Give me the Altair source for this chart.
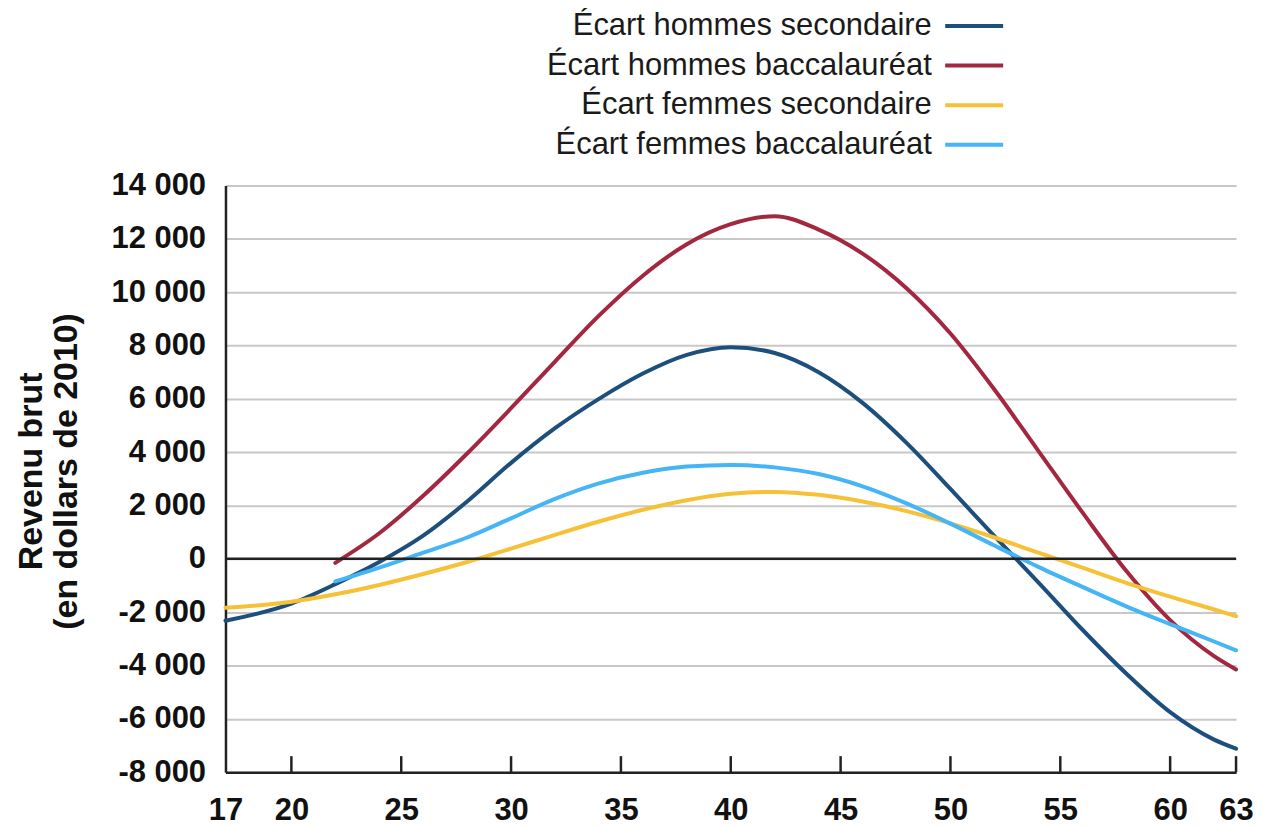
import altair as alt
import pandas as pd

series_names = [
    "Écart hommes secondaire",
    "Écart hommes baccalauréat",
    "Écart femmes secondaire",
    "Écart femmes baccalauréat",
]
colors = ["#1d4f7c", "#a3283f", "#f6c137", "#45b5f5"]

ages_hs = [17, 20, 22, 24, 26, 28, 30, 32, 34, 36, 38, 40, 42, 44, 46, 48, 50, 52, 54, 56, 58, 60, 62, 63]
vals_hs = [-2320, -1680, -950, -120, 870, 2150, 3600, 4900, 6000, 6950, 7650, 7940, 7720, 7000, 5850, 4350, 2620, 850, -880, -2650, -4300, -5750, -6780, -7120]

ages_hb = [22, 24, 26, 28, 30, 32, 34, 36, 38, 40, 42, 44, 46, 48, 50, 52, 54, 56, 58, 60, 62, 63]
vals_hb = [-150, 960, 2365, 3950, 5650, 7400, 9120, 10620, 11800, 12550, 12850, 12350, 11450, 10150, 8450, 6350, 4050, 1750, -450, -2300, -3650, -4150]

ages_fs = [17, 20, 22, 24, 26, 28, 30, 32, 34, 36, 38, 40, 42, 44, 46, 48, 50, 52, 54, 56, 58, 60, 62, 63]
vals_fs = [-1834, -1610, -1330, -980, -570, -120, 380, 900, 1400, 1840, 2200, 2440, 2510, 2400, 2150, 1790, 1330, 800, 230, -330, -900, -1420, -1900, -2150]

ages_fb = [22, 24, 26, 28, 30, 32, 34, 36, 38, 40, 42, 44, 46, 48, 50, 52, 54, 56, 58, 60, 62, 63]
vals_fb = [-850, -330, 230, 800, 1520, 2250, 2830, 3230, 3460, 3520, 3430, 3180, 2720, 2080, 1320, 500, -300, -1050, -1780, -2450, -3100, -3430]

x_ticks = [17, 20, 25, 30, 35, 40, 45, 50, 55, 60, 63]
y_ticks = list(range(-8000, 14001, 2000))

rows = []
for name, ages, vals in zip(
    series_names,
    [ages_hs, ages_hb, ages_fs, ages_fb],
    [vals_hs, vals_hb, vals_fs, vals_fb],
):
    for a, v in zip(ages, vals):
        rows.append({"age": a, "value": v, "series": name})
df = pd.DataFrame(rows)

FONT = "Liberation Sans"

x_scale = alt.Scale(domain=[17, 63], nice=False, zero=False)
y_scale = alt.Scale(domain=[-8000, 14000], nice=False, zero=False)

lines = alt.Chart(df).mark_line(interpolate="monotone", strokeWidth=4, strokeCap="round").encode(
    x=alt.X(
        "age:Q",
        scale=x_scale,
        axis=alt.Axis(
            values=x_ticks,
            title=None,
            grid=False,
            ticks=False,
            domainColor="#222222",
            domainWidth=2.5,
            labelFont=FONT,
            labelFontSize=31,
            labelFontWeight="bold",
            labelColor="#111111",
            labelPadding=23,
            labelFlush=False,
            labelOverlap=False,
        ),
    ),
    y=alt.Y(
        "value:Q",
        scale=y_scale,
        axis=alt.Axis(
            values=y_ticks,
            title=["Revenu brut", "(en dollars de 2010)"],
            titleFont=FONT,
            titleFontSize=34,
            titleFontWeight="bold",
            titleColor="#111111",
            titleAngle=270,
            titleAlign="center",
            titleBaseline="top",
            titleX=-211,
            titleY=286,
            titleLineHeight=35,
            grid=True,
            gridColor="#c8c8c8",
            gridWidth=2,
            ticks=False,
            domainColor="#222222",
            domainWidth=2.5,
            labelFont=FONT,
            labelFontSize=31,
            labelFontWeight="bold",
            labelColor="#111111",
            labelPadding=20,
            labelExpr="(datum.value < 0 ? '-' : '') + replace(format(abs(datum.value), ','), ',', ' ')",
            labelOverlap=False,
            labelFlush=False,
        ),
    ),
    color=alt.Color(
        "series:N",
        scale=alt.Scale(domain=series_names, range=colors),
        legend=alt.Legend(
            title=None,
            orient="none",
            legendX=735,
            legendY=-175.5,
            direction="vertical",
            symbolType="M-5,0H5",
            symbolSize=135,
            symbolStrokeWidth=4,
            labelAlign="right",
            labelOffset={"expr": "-58"},
            labelFont=FONT,
            labelFontSize=31,
            labelColor="#1a1a1a",
            labelLimit=0,
            rowPadding=7.7,
            padding=0,
        ),
    ),
    order=alt.Order("age:Q"),
)

tick_df = pd.DataFrame({"age": x_ticks[1:], "y0": [-8000] * (len(x_ticks) - 1), "y1": [-7400] * (len(x_ticks) - 1)})
ticks = alt.Chart(tick_df).mark_rule(color="#222222", strokeWidth=2.5).encode(
    x=alt.X("age:Q", scale=x_scale),
    y=alt.Y("y0:Q", scale=y_scale),
    y2="y1:Q",
)

zero_df = pd.DataFrame({"value": [0]})
zero = alt.Chart(zero_df).mark_rule(color="#222222", strokeWidth=2.5).encode(
    y=alt.Y("value:Q", scale=y_scale)
)

chart = (
    alt.layer(lines, zero, ticks)
    .properties(
        width=1013,
        height=588,
        autosize=alt.AutoSizeParams(type="none"),
        padding={"left": 218, "top": 177, "right": 19, "bottom": 53},
        background="white",
    )
    .configure_view(stroke=None)
)

chart.save("out.html", embed_options={"renderer": "svg", "actions": False})
